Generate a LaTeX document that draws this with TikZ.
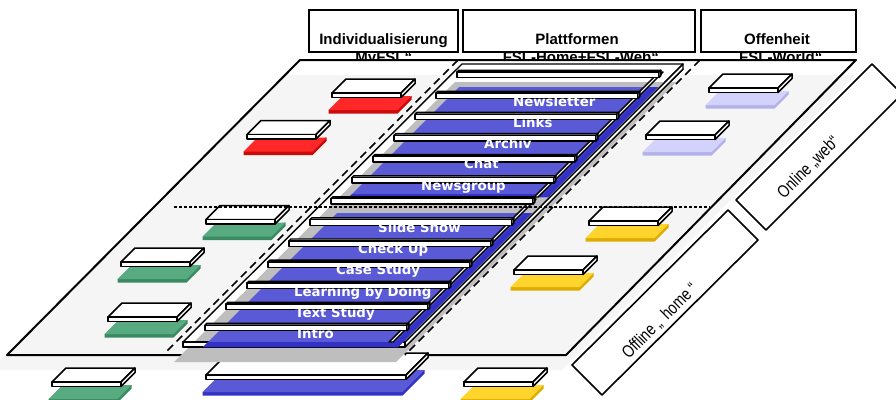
\documentclass[tikz,border=0pt]{standalone}
\usepackage{fontspec}
\usepackage{graphicx}
\newfontfamily\hdrfont{Liberation Sans}
\newfontfamily\lblfont{DejaVu Sans}
\definecolor{basegray}{RGB}{245,245,245}
\definecolor{slabgray}{RGB}{190,190,190}
\definecolor{bluetop}{RGB}{90,90,214}
\definecolor{blueside}{RGB}{50,50,198}
\definecolor{redtop}{RGB}{255,40,40}
\definecolor{redside}{RGB}{205,10,10}
\definecolor{greentop}{RGB}{88,170,128}
\definecolor{greenside}{RGB}{58,138,98}
\definecolor{lavtop}{RGB}{210,210,252}
\definecolor{lavside}{RGB}{178,178,232}
\definecolor{yeltop}{RGB}{255,212,45}
\definecolor{yelside}{RGB}{222,172,0}
\tikzset{
  slabline/.style={fill=white,draw=black,line width=1.5pt,line join=round},
  pics/item/.style n args={4}{code={
    \fill[#2] (-3.5,17) -- (-3.5,20.5) -- (#3-3.5,20.5) -- (#3-3.5+#4,20.5-#4) -- (#3-3.5+#4,17-#4) -- cycle;
    \fill[#1] (-3.5,17) -- (#3-3.5,17) -- (#3-3.5+#4,17-#4) -- (-3.5+#4,17-#4) -- cycle;
    \filldraw[slabline] (0,0) -- (#3,0) -- (#3+#4,-#4) -- (#4,-#4) -- cycle;
    \filldraw[slabline] (0,0) rectangle (#3,4.5);
    \filldraw[slabline] (#3,0) -- (#3+#4,-#4) -- (#3+#4,4.5-#4) -- (#3,4.5) -- cycle;
  }}
}
\begin{document}
\begin{tikzpicture}[x=1pt,y=-1pt,
  hbox/.style={draw=black,line width=1.6pt},
  frame/.style={fill=white,draw=black,line width=1.4pt,line join=round},
  barline/.style={fill=white,draw=black,line width=1.4pt,line join=round},
  rbox/.style={fill=white,draw=black,line width=1.6pt,line join=round},
  hdr/.style={font=\hdrfont\bfseries\fontsize{15}{18}\selectfont,inner sep=0pt,anchor=base},
  lbl/.style={font=\lblfont\bfseries\fontsize{13.3}{15}\selectfont,text=white,inner sep=0pt,anchor=base west},
  rot/.style={font=\hdrfont\fontsize{17.5}{20}\selectfont,inner sep=0pt,rotate=45},
  coldash/.style={draw=black,line width=1.5pt,dash pattern=on 8pt off 5pt},
  dotline/.style={draw=black,line width=1.6pt,dash pattern=on 3pt off 2pt}]
\useasboundingbox (0,0) rectangle (896,399);

% header boxes and titles
\draw[hbox] (309,10) rectangle (458,52);
\draw[hbox] (463,10) rectangle (695,52);
\draw[hbox] (701,10) rectangle (856,52);
\node[hdr] (h1) at (383.5,44.5) {Individualisierung};
\node[hdr] (h2) at (577,44.5) {Plattformen};
\node[hdr] (h3) at (777,44.5) {Offenheit};
\node[hdr] (s1) at (380,62.5) {„MyFSL“};
\node[hdr] (s2) at (577,62.5) {„FSL-Home+FSL-Web“};
\node[hdr] (s3) at (777,62.5) {„FSL-World“};

% base plane
\fill[white] (300,60) -- (856,60) -- (566,355) -- (7,355) -- cycle;
\fill[basegray] (285,75) -- (855,75) -- (562,370) -- (-10,370) -- cycle;
\draw[line width=2pt,line join=round] (300,60) -- (856,60) -- (566,355) -- (7,355) -- cycle;

% side boxes
\filldraw[rbox] (872,64) -- (902,94) -- (766,230) -- (736,200) -- cycle;
\filldraw[rbox] (728,210) -- (758,240) -- (602,395) -- (572,365) -- cycle;
\node[rot] (onl) at (808.5,167.5) {\scalebox{0.8}[1]{Online „web“}};
\node[rot] (off) at (660,321) {\scalebox{0.8}[1]{Offline „\hspace{8pt}home “}};

% small items
\pic at (332,93) {item={redtop}{redside}{69}{14}};
\pic at (247,134.5) {item={redtop}{redside}{69}{14}};
\pic at (709,88) {item={lavtop}{lavside}{69}{14}};
\pic at (646,135) {item={lavtop}{lavside}{69}{14}};
\pic at (206,219.5) {item={greentop}{greenside}{69}{14}};
\pic at (121,262) {item={greentop}{greenside}{69}{14}};
\pic at (108,317) {item={greentop}{greenside}{69}{14}};
\pic at (52,382) {item={greentop}{greenside}{69}{14}};
\pic at (589,221) {item={yeltop}{yelside}{69}{14}};
\pic at (514,270) {item={yeltop}{yelside}{69}{14}};
\pic at (464,382) {item={yeltop}{yelside}{69}{14}};
\pic at (206,375) {item={bluetop}{blueside}{200}{22}};

% middle column: frame and shadow
\filldraw[frame] (462,69) -- (683,69) -- (405,347) -- (183,347) -- cycle;
\filldraw[frame] (462,64) -- (683,64) -- (405,342) -- (183,342) -- cycle;
\fill[slabgray] (455,82) -- (676,82) -- (396,362) -- (174,362) -- cycle;
\filldraw[frame] (683,64) -- (683,69) -- (405,347) -- (405,342) -- cycle;
\filldraw[frame] (183,342) rectangle (405,347);

% column separators
\coordinate (dA1) at (458,60); \coordinate (dA2) at (165,353);
\coordinate (dB1) at (700,60); \coordinate (dB2) at (405,355);
\draw[coldash] (dA1) -- (dA2);
\draw[coldash] (dB1) -- (dB2);

% blue slabs
\fill[bluetop] (459,87) -- (658,87) -- (548,197) -- (349,197) -- cycle;
\fill[blueside] (650,87) -- (658,87) -- (548,197) -- (540,197) -- cycle;
\fill[blueside] (352,194) -- (551,194) -- (548,197) -- (349,197) -- cycle;
\fill[bluetop] (337,213) -- (532,213) -- (398,347) -- (203,347) -- cycle;
\fill[blueside] (524,213) -- (532,213) -- (398,347) -- (390,347) -- cycle;
\fill[blueside] (208,342) -- (403,342) -- (398,347) -- (203,347) -- cycle;

% right end strips
\filldraw[barline] (659,72) -- (663,72) -- (538,197) -- (534,197) -- cycle;
\filldraw[barline] (532,199) -- (536,199) -- (393,342) -- (389,342) -- cycle;

% bars
\foreach \k in {0,...,12} {
  \pgfmathsetmacro\bx{457-21*\k}
  \pgfmathsetmacro\by{72+21.1*\k}
  \filldraw[barline] (\bx,\by) -- ++(202,0) -- ++(1.8,-1.8) -- ++(-202,0) -- cycle;
  \filldraw[barline] (\bx,\by) rectangle ++(202,5.5);
  \filldraw[barline] (\bx+202,\by) -- ++(1.8,-1.8) -- ++(0,5.5) -- ++(-1.8,1.8) -- cycle;
}

% labels
\node[lbl] (l1) at (513,106.1) {Newsletter};
\node[lbl] (l2) at (513,127.2) {Links};
\node[lbl] (l3) at (484,148.3) {Archiv};
\node[lbl] (l4) at (464,168.8) {Chat};
\node[lbl] (l5) at (421,190) {Newsgroup};
\node[lbl] (l7) at (378,232.2) {Slide Show};
\node[lbl] (l8) at (358,253.8) {Check Up};
\node[lbl] (l9) at (336,274.9) {Case Study};
\node[lbl] (l10) at (294,296) {Learning by Doing};
\node[lbl] (l11) at (295,317.1) {Text Study};
\node[lbl] (l12) at (297,338.2) {Intro};

% dotted divider
\coordinate (dotL) at (174,207); \coordinate (dotR) at (710,207);
\draw[dotline] (dotL) -- (dotR);
\end{tikzpicture}
\end{document}
